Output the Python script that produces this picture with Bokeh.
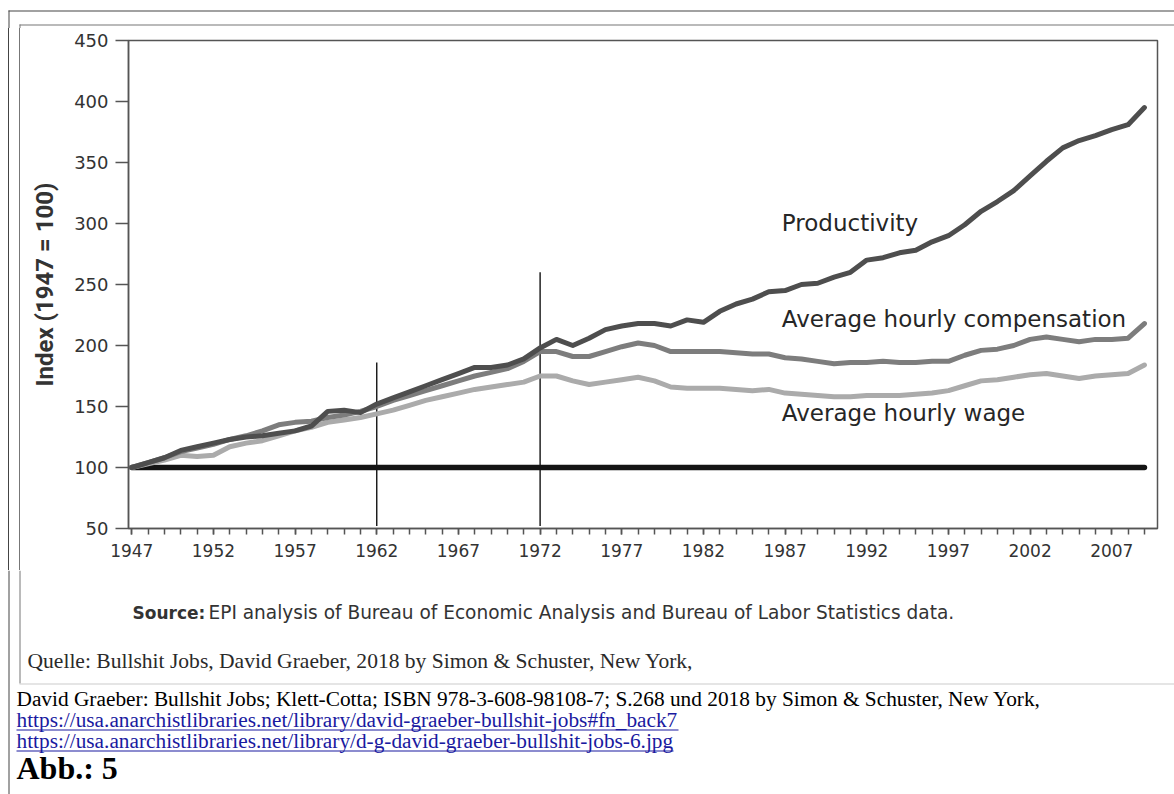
from bokeh.plotting import figure
from bokeh.layouts import column, row
from bokeh.models import Range1d, FixedTicker, Label, Div
from bokeh.core.properties import value
from bokeh.embed import file_html
from bokeh.resources import INLINE

# ---------------- data ----------------
years = list(range(1947, 2010))
productivity = [100, 104, 108, 114, 117, 120, 123, 125, 126, 128,
                130, 134, 146, 147, 145, 152, 157, 162, 167, 172,
                177, 182, 182, 184, 189, 198, 205, 200, 206, 213,
                216, 218, 218, 216, 221, 219, 228, 234, 238, 244,
                245, 250, 251, 256, 260, 270, 272, 276, 278, 285,
                290, 299, 310, 318, 327, 339, 351, 362, 368, 372,
                377, 381, 395]
compensation = [100, 104, 108, 113, 116, 119, 123, 126, 130, 135,
                137, 138, 141, 143, 146, 150, 155, 159, 163, 167,
                171, 175, 178, 181, 187, 195, 195, 191, 191, 195,
                199, 202, 200, 195, 195, 195, 195, 194, 193, 193,
                190, 189, 187, 185, 186, 186, 187, 186, 186, 187,
                187, 192, 196, 197, 200, 205, 207, 205, 203, 205,
                205, 206, 218]
wage = [100, 103, 106, 110, 109, 110, 117, 120, 122, 126,
        130, 133, 137, 139, 141, 144, 147, 151, 155, 158,
        161, 164, 166, 168, 170, 175, 175, 171, 168, 170,
        172, 174, 171, 166, 165, 165, 165, 164, 163, 164,
        161, 160, 159, 158, 158, 159, 159, 159, 160, 161,
        163, 167, 171, 172, 174, 176, 177, 175, 173, 175,
        176, 177, 184]
series_names = ["Productivity", "Average hourly compensation", "Average hourly wage"]
base_index = 100
marker_years = [1962, 1972]
marker_tops = [186, 260]
marker_bottom = 52
x_tick_years = list(range(1947, 2008, 5))
y_ticks = list(range(50, 451, 50))
y_label = "Index (1947 = 100)"
source_bold = "Source:"
source_text = "EPI analysis of Bureau of Economic Analysis and Bureau of Labor Statistics data."
quelle_text = "Quelle: Bullshit Jobs, David Graeber, 2018 by Simon & Schuster, New York,"
ref_text = ("David Graeber: Bullshit Jobs; Klett-Cotta; ISBN 978-3-608-98108-7; "
            "S.268 und 2018 by Simon & Schuster, New York,")
link1 = "https://usa.anarchistlibraries.net/library/david-graeber-bullshit-jobs#fn_back7"
link2 = "https://usa.anarchistlibraries.net/library/d-g-david-graeber-bullshit-jobs-6.jpg"
fig_caption = "Abb.: 5"

# ---------------- page geometry (page pixels) ----------------
PAGE_W, PAGE_H = 1174, 794
TOP_H = 28            # strip above the chart
STRIP_W = 24          # strip left of the chart
CHART_H = 542         # chart figure height
BOTTOM_H = PAGE_H - TOP_H - CHART_H
CHART_W = PAGE_W - STRIP_W

OUTER = "#444444"
INNER = "#777777"
AX = "#555555"
TXT = "#333333"
LINK = "#1a1aa0"


def deco_fig(w, h):
    f = figure(width=w, height=h, x_range=Range1d(0, w), y_range=Range1d(h, 0),
               output_backend="svg", toolbar_location=None, tools="",
               x_axis_location=None, y_axis_location=None, min_border=0)
    f.outline_line_color = None
    f.background_fill_color = "white"
    f.border_fill_color = "white"
    f.grid.visible = False
    return f


def bar(f, l, r, t, b, color):
    f.quad(left=[l], right=[r], top=[t], bottom=[b], fill_color=color, line_color=None)


# ---- top strip ----
top = deco_fig(PAGE_W, TOP_H)
bar(top, 8, PAGE_W, 10, 11, OUTER)
bar(top, 8, 9, 10, TOP_H, OUTER)
bar(top, 19, PAGE_W, 24, 25, INNER)
bar(top, 19, 20, 24, TOP_H, INNER)

# ---- left strip: two page-frame rules ----
left = Div(text="", width=STRIP_W, height=CHART_H, margin=0,
           styles={"background": "linear-gradient(to right, #ffffff 0px, #ffffff 8px, "
                                 f"{OUTER} 8px, {OUTER} 9px, #ffffff 9px, #ffffff 19px, "
                                 f"{INNER} 19px, {INNER} 20px, #ffffff 20px)"})

# ---- chart ----
p = figure(width=CHART_W, height=CHART_H, x_range=Range1d(1946.8, 2009.8), y_range=Range1d(50, 450),
           output_backend="svg", toolbar_location=None, tools="",
           min_border_left=104, min_border_top=12, min_border_right=17, min_border_bottom=42)
p.background_fill_color = "white"
p.border_fill_color = "white"
p.xgrid.grid_line_color = None
p.ygrid.grid_line_color = None
p.outline_line_color = AX
p.outline_line_width = 1.5

xa = p.xaxis[0]
xa.ticker = FixedTicker(ticks=x_tick_years, minor_ticks=years)
xa.axis_line_color = AX
xa.axis_line_width = 1.5
xa.major_tick_line_color = AX
xa.minor_tick_line_color = AX
xa.major_tick_line_width = 1.5
xa.minor_tick_line_width = 1.5
xa.major_tick_in = 0
xa.major_tick_out = 6
xa.minor_tick_in = 0
xa.minor_tick_out = 6
xa.major_label_standoff = 9
xa.major_label_text_font = "DejaVu Sans"
xa.major_label_text_font_size = "17px"
xa.major_label_text_color = TXT

ya = p.yaxis[0]
ya.ticker = FixedTicker(ticks=y_ticks)
ya.axis_line_color = AX
ya.axis_line_width = 1.5
ya.major_tick_line_color = AX
ya.major_tick_line_width = 1.5
ya.minor_tick_line_color = None
ya.major_tick_in = 0
ya.major_tick_out = 13
ya.major_label_standoff = 7
ya.major_label_text_font = "DejaVu Sans"
ya.major_label_text_font_size = "18px"
ya.major_label_text_color = TXT
ya.axis_label = y_label
ya.axis_label_text_font = "Roboto"
ya.axis_label_text_font_style = "bold"
ya.axis_label_text_font_size = "24px"
ya.axis_label_text_color = TXT
ya.axis_label_standoff = 12

p.segment(x0=marker_years, y0=[marker_bottom] * len(marker_years), x1=marker_years, y1=marker_tops,
          line_color="black", line_width=1.3)
p.line([years[0], years[-1]], [base_index, base_index], line_color="#141414", line_width=5.5,
       line_cap="round")
p.line(years, wage, line_color="#ababab", line_width=5, line_join="round", line_cap="round")
p.line(years, compensation, line_color="#7d7d7d", line_width=5, line_join="round", line_cap="round")
p.line(years, productivity, line_color="#4e4e4e", line_width=5, line_join="round", line_cap="round")

label_pos = [(1986.8, 300.6), (1986.8, 221.4), (1986.8, 144.4)]
for name, (lx, ly) in zip(series_names, label_pos):
    p.add_layout(Label(x=lx, y=ly, text=name, text_font="DejaVu Sans", text_font_size="23px",
                       text_color="#262626", text_baseline="alphabetic", text_align="left"))

# ---- bottom strip (texts) ----
Y0 = TOP_H + CHART_H  # page y of the strip's top
bot = deco_fig(PAGE_W, BOTTOM_H)
bar(bot, 8, 9, 0, BOTTOM_H, OUTER)
bar(bot, 19, 20, 0, 683 - Y0, INNER)
bar(bot, 19, PAGE_W, 683 - Y0, 684 - Y0, "#cccccc")


def txt(x, y, s, font, size, color, style="normal"):
    bot.text(x=[x], y=[y - Y0], text=[s], text_font=value(font), text_font_size=value(size),
             text_color=color, text_font_style=style, text_baseline="alphabetic", text_align="left")


txt(132, 612, source_bold, "DejaVu Sans", "17px", TXT, "bold")
txt(208, 612, source_text, "DejaVu Sans", "18.55px", TXT)
txt(27, 660, quelle_text, "Liberation Serif", "21.55px", "#2a2a2a")
txt(16, 698, ref_text, "Liberation Serif", "21.33px", "#000000")
txt(16, 719, link1, "Liberation Serif", "21.3px", LINK)
bar(bot, 16, 678, 729 - Y0, 730 - Y0, LINK)
txt(16, 740, link2, "Liberation Serif", "21.3px", LINK)
bar(bot, 16, 673, 750 - Y0, 751 - Y0, LINK)
txt(16, 767, fig_caption, "Liberation Serif", "32px", "#000000", "bold")

layout = column(top, row(left, p), bot)
open("out.html", "w").write(file_html(layout, INLINE))
